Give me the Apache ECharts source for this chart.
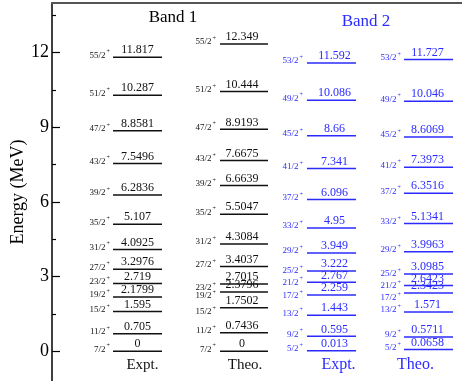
<!DOCTYPE html>
<html>
<head>
<meta charset="utf-8">
<script src="https://cdn.jsdelivr.net/npm/echarts@6/dist/echarts.min.js"></script>
<style>
  html, body { margin: 0; padding: 0; background: #fff; }
  #chart { width: 462px; height: 381px; }
</style>
</head>
<body>
<div id="chart"></div>
<script>
// Level energies (MeV) and spins
const spinsBand1 = ["7/2", "11/2", "15/2", "19/2", "23/2", "27/2", "31/2", "35/2", "39/2", "43/2", "47/2", "51/2", "55/2"];
const band1Expt = [0, 0.705, 1.595, 2.1799, 2.719, 3.2976, 4.0925, 5.107, 6.2836, 7.5496, 8.8581, 10.287, 11.817];
const band1Theo = [0, 0.7436, 1.7502, 2.3796, 2.7015, 3.4037, 4.3084, 5.5047, 6.6639, 7.6675, 8.9193, 10.444, 12.349];

const spinsBand2 = ["5/2", "9/2", "13/2", "17/2", "21/2", "25/2", "29/2", "33/2", "37/2", "41/2", "45/2", "49/2", "53/2"];
const band2Expt = [0.013, 0.595, 1.443, 2.259, 2.767, 3.222, 3.949, 4.95, 6.096, 7.341, 8.66, 10.086, 11.592];
const band2Theo = [0.0658, 0.5711, 1.571, 2.3423, 2.6423, 3.0985, 3.9963, 5.1341, 6.3516, 7.3973, 8.6069, 10.046, 11.727];

const energyTicks = [0, 3, 6, 9, 12];
const energyMinorTicks = [1.5, 4.5, 7.5, 10.5, 13.5];
const columnNames = ["Expt.", "Theo.", "Expt.", "Theo."];
const bandNames = ["Band 1", "Band 2"];

const SERIF = '"Liberation Serif", "DejaVu Serif", serif';
const BLACK = "#111";
const BLUE = "#2b2bff";

// column layout in x-axis units (pixels from the left axis)
const columns = [
  { x0: 61, x1: 110, color: BLACK, gap: 3, valDx: 0, nameDx: 5, nameSize: 15, nudge: {} },
  { x0: 168, x1: 216, color: BLACK, gap: 4, valDx: -2, nameDx: 1, nameSize: 15, nudge: { "23/2": 3, "19/2": 3, "15/2": 3 } },
  { x0: 255, x1: 304, color: BLUE, gap: 4, valDx: 3, nameDx: 7, nameSize: 16, nudge: { "21/2": -1, "17/2": 0, "25/2": -1 } },
  { x0: 352, x1: 401, color: BLUE, gap: 3, valDx: -1, nameDx: -13, nameSize: 16, nudge: { "21/2": -1, "17/2": 4, "25/2": -1 } }
];

function levelSeries(col, idx, spins, energies) {
  return {
    type: "custom",
    coordinateSystem: "cartesian2d",
    data: energies.map((e) => [col.x0, e, col.x1]),
    encode: { x: [0, 2], y: 1 },
    silent: true,
    renderItem: (params, api) => {
      const i = params.dataIndex;
      const e = api.value(1);
      const p0 = api.coord([col.x0, e]);
      const p1 = api.coord([col.x1, e]);
      const spin = spins[i];
      const dy = col.nudge[spin] !== undefined ? col.nudge[spin] : -3;
      const children = [
        {
          type: "line",
          shape: { x1: p0[0], y1: p0[1], x2: p1[0], y2: p1[1] },
          style: { stroke: col.color, lineWidth: 1.5 }
        },
        {
          type: "text",
          x: (p0[0] + p1[0]) / 2 + col.valDx,
          y: p0[1] - 1,
          style: {
            text: String(energies[i]),
            fill: col.color,
            font: "12px " + SERIF,
            align: "center",
            verticalAlign: "bottom"
          }
        },
        {
          type: "text",
          x: p0[0] - col.gap,
          y: p0[1] + dy,
          style: {
            text: "{a|" + spin + "}{s|+}",
            fill: col.color,
            align: "right",
            verticalAlign: "middle",
            rich: {
              a: { fontSize: 9, fontFamily: SERIF, fill: col.color, verticalAlign: "bottom", lineHeight: 11 },
              s: { fontSize: 6, fontFamily: SERIF, fill: col.color, verticalAlign: "top", lineHeight: 11, padding: [0, 0, 0, 1] }
            }
          }
        }
      ];
      if (i === 0) {
        const pn = api.coord([(col.x0 + col.x1) / 2, -0.55]);
        children.push({
          type: "text",
          x: pn[0] + col.nameDx,
          y: pn[1],
          style: {
            text: columnNames[idx],
            fill: col.color,
            font: col.nameSize + "px " + SERIF,
            align: "center",
            verticalAlign: "middle"
          }
        });
      }
      return { type: "group", children: children };
    }
  };
}

const chart = echarts.init(document.getElementById("chart"), null, { renderer: "canvas" });

chart.setOption({
  animation: false,
  backgroundColor: "#fff",
  title: [
    {
      text: bandNames[0], left: 173, top: 9, textAlign: "center", padding: 0,
      textStyle: { fontFamily: SERIF, fontSize: 17, fontWeight: "normal", color: "#000" }
    },
    {
      text: bandNames[1], left: 366, top: 13, textAlign: "center", padding: 0,
      textStyle: { fontFamily: SERIF, fontSize: 17, fontWeight: "normal", color: BLUE }
    }
  ],
  grid: { left: 52, right: 0, top: 3, bottom: 0, containLabel: false, outerBoundsMode: "none" },
  xAxis: {
    type: "value",
    position: "top",
    min: 0,
    max: 410,
    axisLine: { show: true, onZero: false, lineStyle: { color: "#555", width: 2 } },
    axisTick: { show: false },
    axisLabel: { show: false },
    splitLine: { show: false }
  },
  yAxis: [
    {
      type: "value",
      min: -1.2,
      max: 14,
      name: "Energy (MeV)",
      nameLocation: "middle",
      nameGap: 25,
      nameMoveOverlap: false,
      nameTextStyle: { fontFamily: SERIF, fontSize: 18, color: "#000" },
      axisLine: { show: true, onZero: false, lineStyle: { color: "#000", width: 1.5 } },
      axisTick: { show: true, inside: true, length: 8, customValues: energyTicks, lineStyle: { color: "#000", width: 1.2 } },
      axisLabel: { customValues: energyTicks, fontFamily: SERIF, fontSize: 18, color: "#000", margin: 3 },
      splitLine: { show: false }
    },
    {
      type: "value",
      min: -1.2,
      max: 14,
      position: "left",
      axisLine: { show: false, onZero: false },
      axisTick: { show: true, inside: true, length: 4, customValues: energyMinorTicks, lineStyle: { color: "#000", width: 1.2 } },
      axisLabel: { show: false },
      splitLine: { show: false }
    }
  ],
  series: [
    levelSeries(columns[0], 0, spinsBand1, band1Expt),
    levelSeries(columns[1], 1, spinsBand1, band1Theo),
    levelSeries(columns[2], 2, spinsBand2, band2Expt),
    levelSeries(columns[3], 3, spinsBand2, band2Theo)
  ]
});
</script>
</body>
</html>
